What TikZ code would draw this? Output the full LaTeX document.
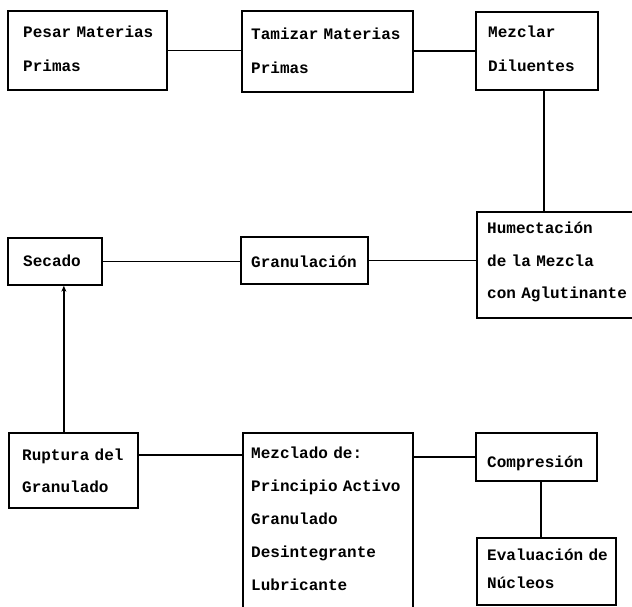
\documentclass[tikz,border=0pt]{standalone}
\usepackage{fontspec}
\newfontfamily\twfont{Liberation Mono}
\usetikzlibrary{arrows.meta}
\tikzset{
  box/.style={draw, line width=1.7pt, inner sep=0pt, anchor=north west},
  lbl/.style={anchor=base west, inner sep=0pt, align=left, text width=200pt,
              font=\twfont\bfseries\fontsize{16}{34}\selectfont},
  conn/.style={line width=1.6pt},
}
\begin{document}
\begin{tikzpicture}[x=1pt,y=-1pt]
\useasboundingbox (0,0) rectangle (632,607);
\clip (0,0) rectangle (632,607);
% boxes
\node[box, minimum width=159pt, minimum height=79pt] (pesar) at (7,10) {};
\node[box, minimum width=171pt, minimum height=81pt] (tamizar) at (241,10) {};
\node[box, minimum width=122pt, minimum height=78pt] (mezclar) at (475,11) {};
\node[box, minimum width=170pt, minimum height=106pt] (hum) at (476,211) {};
\node[box, minimum width=94pt, minimum height=47pt] (secado) at (7,237) {};
\node[box, minimum width=127pt, minimum height=47pt] (gran) at (240,236) {};
\node[box, minimum width=129pt, minimum height=75pt] (ruptura) at (8,432) {};
\node[box, minimum width=170pt, minimum height=190pt] (mezclado) at (242,432) {};
\node[box, minimum width=121pt, minimum height=48pt] (comp) at (475,432) {};
\node[box, minimum width=139pt, minimum height=67pt] (eval) at (476,537) {};
% texts
\node[lbl] (tpesar) at (23,38) {Pesar Materias\\Primas};
\node[lbl] (ttamizar) at (251,40) {Tamizar Materias\\Primas};
\node[lbl] (tmezclar) at (488,38) {Mezclar\\Diluentes};
\node[lbl, font=\twfont\bfseries\fontsize{16}{33}\selectfont] (thum) at (487,233) {Humectación\\de la Mezcla\\con Aglutinante};
\node[lbl] (tsecado) at (23,266) {Secado};
\node[lbl] (tgran) at (251,267) {Granulación};
\node[lbl, font=\twfont\bfseries\fontsize{16}{32}\selectfont] (truptura) at (22,460) {Ruptura del\\Granulado};
\node[lbl, font=\twfont\bfseries\fontsize{16}{33.2}\selectfont] (tmezclado) at (251,458) {Mezclado de:\\Principio Activo\\Granulado\\Desintegrante\\Lubricante};
\node[lbl] (tcomp) at (487,467) {Compresión};
\node[lbl, font=\twfont\bfseries\fontsize{16}{28}\selectfont] (teval) at (487,560) {Evaluación de\\Núcleos};
% connectors
\draw[conn] (pesar.east) -- (pesar.east -| tamizar.west);
\draw[conn] (mezclar.west -| tamizar.east) -- (mezclar.west);
\draw[conn] ([xshift=7pt]mezclar.south) -- ([xshift=7pt]mezclar.south |- hum.north);
\draw[conn] (gran.east) -- (gran.east -| hum.west);
\draw[conn] (secado.east) -- (secado.east -| gran.west);
\draw[conn, -{Stealth[length=6pt,width=5pt]}] ([xshift=-9.5pt]ruptura.north) -- ([xshift=-9.5pt]ruptura.north |- secado.south);
\draw[conn] ([yshift=15.5pt]ruptura.east) -- ([yshift=15.5pt]ruptura.east -| mezclado.west);
\draw[conn] (comp.west -| mezclado.east) -- (comp.west);
\draw[conn] ([xshift=4.5pt]comp.south) -- ([xshift=4.5pt]comp.south |- eval.north);
\end{tikzpicture}
\end{document}
